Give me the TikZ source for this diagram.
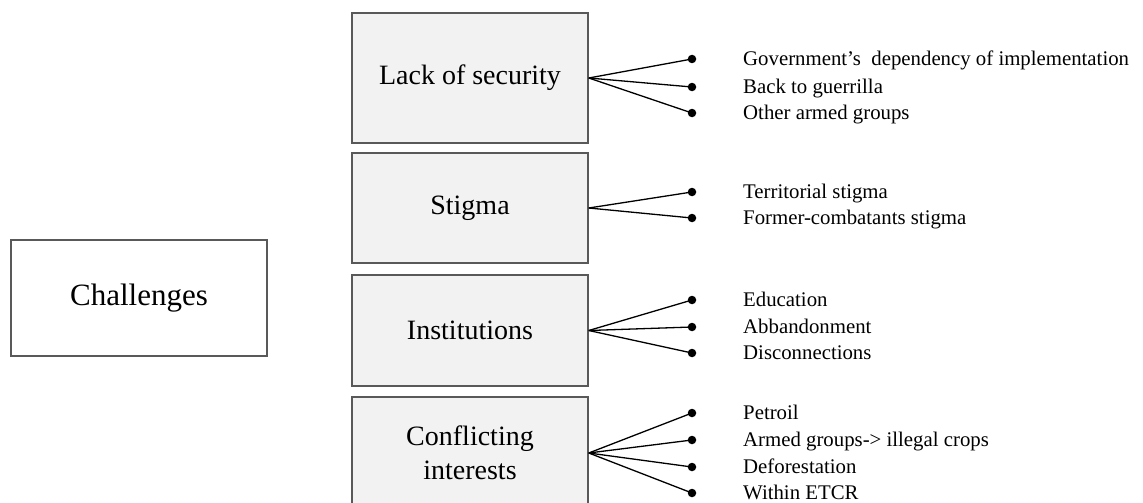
\documentclass[tikz,border=0pt]{standalone}
\usepackage{fontspec}
\setmainfont{Liberation Serif}
\begin{document}
\begin{tikzpicture}[x=1pt,y=-1pt,
  catbox/.style={draw=black!65,line width=1.5pt,fill=black!5,minimum width=236pt,inner sep=0pt,font=\fontsize{28}{34}\selectfont,align=center},
  rootbox/.style={draw=black!65,line width=1.5pt,fill=white,minimum width=256pt,minimum height=116pt,inner sep=0pt,font=\fontsize{31}{36}\selectfont},
  dot/.style={circle,fill=black,inner sep=0pt,minimum size=8.5pt},
  item/.style={anchor=base west,inner sep=0pt,font=\fontsize{20.8}{24}\selectfont},
  fan/.style={line width=1.3pt}]
\clip (0,0) rectangle (1143,503);
\fill[white] (0,0) rectangle (1143,503);
\node[rootbox] (ch) at (139,298) {Challenges};
\node[catbox,minimum height=130pt] (ls) at (470,78) {Lack of security};
\node[catbox,minimum height=110pt] (st) at (470,208) {Stigma};
\node[catbox,minimum height=111pt] (in) at (470,330.5) {Institutions};
\node[catbox,minimum height=112pt] (ci) at (470,453) {Conflicting\\interests};
% dots and items
\foreach \n/\y/\t in {a1/59/{Government's\ \ dependency of implementation},a2/87/{Back to guerrilla},a3/113/{Other armed groups},
  b1/192/{Territorial stigma},b2/218/{Former-combatants stigma},
  c1/300/{Education},c2/327/{Abbandonment},c3/353/{Disconnections},
  d1/413/{Petroil},d2/440/{Armed groups-> illegal crops},d3/467/{Deforestation},d4/493/{Within ETCR}}{
  \node[dot] (\n) at (692,\y) {};
  \node[item] (t\n) at (743,\y+6.5) {\t};
}
\foreach \n in {a1,a2,a3} \draw[fan] (ls.east) -- (\n.center);
\foreach \n in {b1,b2} \draw[fan] (st.east) -- (\n.center);
\foreach \n in {c1,c2,c3} \draw[fan] (in.east) -- (\n.center);
\foreach \n in {d1,d2,d3,d4} \draw[fan] (ci.east) -- (\n.center);
\end{tikzpicture}
\end{document}
